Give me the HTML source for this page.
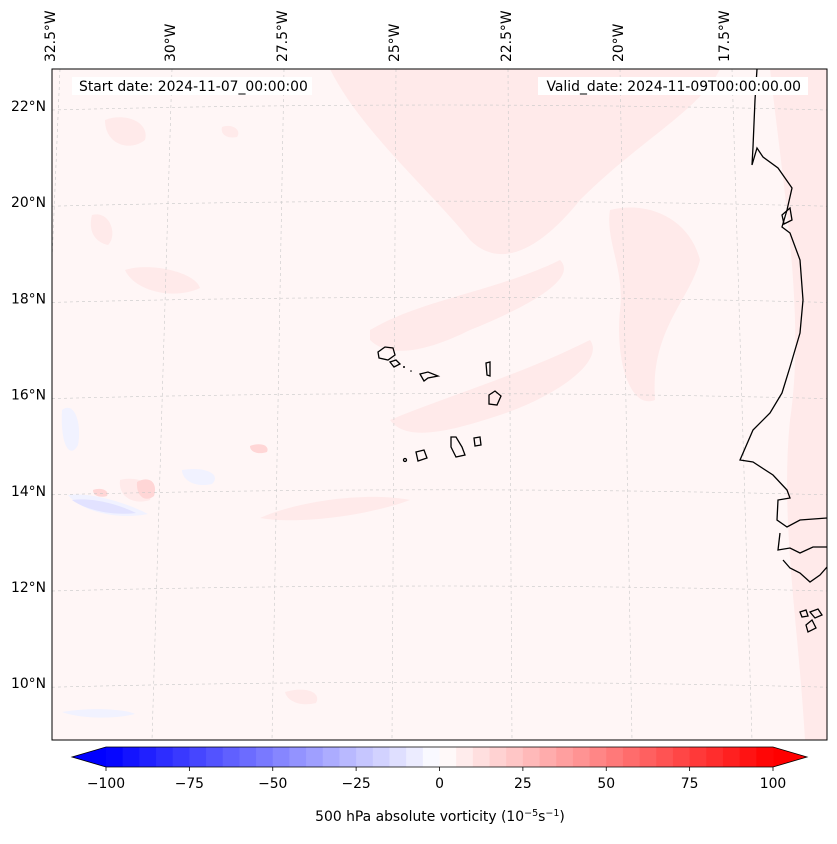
<!DOCTYPE html>
<html><head><meta charset="utf-8"><style>
html,body{margin:0;padding:0;background:#fff;}
svg text{font-family:"DejaVu Sans","Liberation Sans",sans-serif;fill:#000;}
</style></head><body>
<svg id="chart" width="837" height="839" viewBox="0 0 837 839">
  <defs><clipPath id="mapclip"><rect x="52" y="69" width="775" height="671"/></clipPath></defs>
  <g id="map" clip-path="url(#mapclip)">
    <rect x="52" y="69" width="775" height="671" fill="#fff6f6"/>
    <g fill="#ffeaea">
      <path d="M330 69 C360 130 430 190 470 240 C500 270 540 250 580 200 C640 140 700 110 720 69 Z"/>
      <path d="M105 120 C125 112 150 122 145 140 C130 152 105 145 105 120 Z"/>
      <path d="M92 215 C110 210 118 235 108 245 C94 242 88 230 92 215 Z"/>
      <path d="M125 270 C150 262 195 272 200 288 C175 300 135 292 125 270 Z"/>
      <path d="M370 330 C420 300 500 290 560 260 C580 280 520 310 470 330 C430 350 390 360 370 340 Z"/>
      <path d="M390 420 C450 395 520 375 590 340 C605 360 560 395 500 415 C440 435 405 440 390 420 Z"/>
      <path d="M610 210 C650 200 690 220 700 260 C690 300 650 330 655 400 C630 410 615 360 620 310 C625 270 605 240 610 210 Z"/>
      <path d="M260 518 C300 500 370 492 410 500 C370 515 300 525 260 518 Z"/>
      <path d="M120 480 C140 475 155 485 150 500 C135 505 118 498 120 480 Z"/>
      <path d="M770 69 L827 69 L827 740 L805 740 C798 620 780 520 790 420 C805 320 785 200 770 69 Z"/>
      <path d="M222 127 C232 123 242 130 237 137 C228 139 220 135 222 127 Z"/>
      <path d="M285 692 C305 686 322 692 316 703 C300 707 287 701 285 692 Z"/>
      <path d="M560 120 C590 110 620 125 610 150 C590 160 565 145 560 120 Z"/>
    </g>
    <g fill="#ffd6d6">
      <path d="M137 482 C150 475 158 483 154 496 C145 503 136 496 137 482 Z"/>
      <path d="M93 490 C100 487 110 490 107 496 C100 498 93 496 93 490 Z"/>
      <path d="M250 446 C260 442 270 445 267 452 C258 455 250 452 250 446 Z"/>
    </g>
    <g fill="#f1f2ff">
      <path d="M62 410 C75 400 82 425 78 445 C70 460 60 445 62 410 Z"/>
      <path d="M68 495 C90 492 125 502 148 514 C118 520 82 512 68 495 Z"/>
      <path d="M182 470 C205 466 222 474 212 484 C195 488 182 480 182 470 Z"/>
      <path d="M62 712 C90 707 125 709 135 714 C110 720 78 718 62 712 Z"/>
    </g>
    <g fill="#e2e2ff">
      <path d="M72 500 C95 497 122 506 136 513 C112 516 86 510 72 500 Z"/>
    </g>
    <g id="grid" stroke="#c8c8c8" stroke-width="0.6" stroke-dasharray="3,3" fill="none"></g>
    <g stroke="#000" stroke-width="1.3" fill="none">
      <path d="M757 69 L755 100 L753 147 L752 165 L757 148 L763 157 L778 168 L792 188 L787 210 L782 227 L790 233 L800 260 L803 300 L800 333 L790 367 L782 393 L770 413 L753 430 L740 460 L753 462 L773 475 L787 490 L790 498 L778 500 L777 520 L787 527 L800 520 L827 518"/>
      <path d="M780 533 L778 550 L790 548 L800 553 L813 547 L827 547"/>
      <path d="M783 560 L790 568 L800 573 L810 582 L820 575 L827 567"/>
      <path d="M782 215 L790 208 L792 220 L784 224 Z"/>
      <path d="M806 625 L812 620 L816 628 L808 632 Z M810 612 L818 609 L822 615 L815 618 Z M800 612 L806 610 L808 616 L802 617 Z"/>
      <path d="M378 352 L385 347 L393 348 L395 355 L388 360 L379 358 Z"/>
      <path d="M390 362 L396 360 L400 364 L394 367 Z"/>
      <path d="M420 374 L428 372 L438 376 L428 378 L424 381 Z"/>
      <path d="M486 363 L490 362 L490 376 L487 375 Z"/>
      <path d="M489 395 L495 391 L501 396 L497 405 L489 404 Z"/>
      <path d="M451 437 L456 437 L462 447 L465 455 L456 457 L451 447 Z"/>
      <path d="M474 438 L480 437 L481 445 L475 446 Z"/>
      <path d="M416 452 L424 450 L427 458 L418 461 Z"/>
      <circle cx="405" cy="460" r="1.5"/>
    </g>
    <g fill="#000"><circle cx="404" cy="367" r="1"/><circle cx="411" cy="371" r="0.8"/></g>
    <rect x="72" y="77" width="240" height="18" fill="#fff"/>
    <rect x="538" y="77" width="270" height="18" fill="#fff"/>
    <text x="79" y="91" font-size="13.9">Start date: 2024-11-07_00:00:00</text>
    <text x="801" y="91" font-size="13.9" text-anchor="end">Valid_date: 2024-11-09T00:00:00.00</text>
  </g>
  <rect x="52" y="69" width="775" height="671" fill="none" stroke="#000" stroke-width="1"/>
  <g id="latlabels"></g>
  <g id="lonlabels"></g>
  <g id="cbar"></g>
  <text x="440" y="821" font-size="13.9" text-anchor="middle">500 hPa absolute vorticity (10<tspan font-size="9.5" dy="-5">−5</tspan><tspan dy="5">s</tspan><tspan font-size="9.5" dy="-5">−1</tspan><tspan dy="5">)</tspan></text>
</svg>
<script>
const latTicks = [22, 20, 18, 16, 14, 12, 10];
const latLabels = ["22°N","20°N","18°N","16°N","14°N","12°N","10°N"];
const lonTicks = [-32.5, -30, -27.5, -25, -22.5, -20, -17.5];
const lonLabels = ["32.5°W","30°W","27.5°W","25°W","22.5°W","20°W","17.5°W"];
const cbarLevels = [-100,-95,-90,-85,-80,-75,-70,-65,-60,-55,-50,-45,-40,-35,-30,-25,-20,-15,-10,-5,0,5,10,15,20,25,30,35,40,45,50,55,60,65,70,75,80,85,90,95,100];
const cbarTicks = [-100,-75,-50,-25,0,25,50,75,100];

const NS="http://www.w3.org/2000/svg";
function mk(tag, attrs, parent){const e=document.createElementNS(NS,tag);for(const k in attrs)e.setAttribute(k,attrs[k]);parent.appendChild(e);return e;}
function yLat(lat){return 106 + (22-lat)*48.1;}
function xLonTop(lon){return 172 + (lon+30)*44.8;}
function xLonBot(lon){return 152 + (lon+30)*48.0;}
const grid=document.getElementById('grid');
latTicks.forEach(lat=>{
  const y=yLat(lat);
  const l=mk('path',{d:`M52 ${y+4} Q440 ${y-6} 827 ${y+4}`},grid);
  
  
});
lonTicks.forEach(lon=>{
  const l=mk('line',{x1:xLonTop(lon),y1:69,x2:xLonBot(lon),y2:740},grid);
  
  
});
const latG=document.getElementById('latlabels');
latTicks.forEach((lat,i)=>{
  const t=mk('text',{x:46,y:yLat(lat)+5,'font-size':13.9,'text-anchor':'end'},latG);
  t.textContent=latLabels[i];
  
  
});
const lonG=document.getElementById('lonlabels');
lonTicks.forEach((lon,i)=>{
  const x=xLonTop(lon)-2+ (i===0?-8:0)+ (i===6? -6:0);
  const t=mk('text',{x:0,y:0,'font-size':13.9,transform:`translate(${x+5},62) rotate(-90)`},lonG);
  t.textContent=lonLabels[i];
  
  
});
const cb=document.getElementById('cbar');
const cx0=106, cx1=773, cy0=747, cy1=767;
function xc(v){return cx0+(v+100)/200*(cx1-cx0);}
function bwr(t){
  if(t<0.5){const s=t/0.5;return `rgb(${Math.round(255*s)},${Math.round(255*s)},255)`;}
  const s=(t-0.5)/0.5;return `rgb(255,${Math.round(255*(1-s))},${Math.round(255*(1-s))})`;
}
mk('polygon',{points:`${cx0},${cy0} 72,${(cy0+cy1)/2} ${cx0},${cy1}`,fill:'rgb(0,0,255)'},cb);
mk('polygon',{points:`${cx1},${cy0} 807,${(cy0+cy1)/2} ${cx1},${cy1}`,fill:'rgb(255,0,0)'},cb);
for(let i=0;i<cbarLevels.length-1;i++){
  const a=cbarLevels[i],b=cbarLevels[i+1];
  const mid=(a+b)/2;
  const r=mk('rect',{x:xc(a),y:cy0,width:xc(b)-xc(a)+0.5,height:cy1-cy0,fill:bwr((mid+100)/200)},cb);
  
  
}
mk('polygon',{points:`${cx0},${cy0} ${cx1},${cy0} 807,${(cy0+cy1)/2} ${cx1},${cy1} ${cx0},${cy1} 72,${(cy0+cy1)/2}`,fill:'none',stroke:'#000','stroke-width':0.8},cb);
cbarTicks.forEach(v=>{
  mk('line',{x1:xc(v),y1:cy1,x2:xc(v),y2:cy1+4,stroke:'#000','stroke-width':0.8},cb);
  const t=mk('text',{x:xc(v),y:cy1+21,'font-size':13.9,'text-anchor':'middle'},cb);
  t.textContent=v<0?'−'+Math.abs(v):String(v);
  
  
});
</script>
</body></html>
